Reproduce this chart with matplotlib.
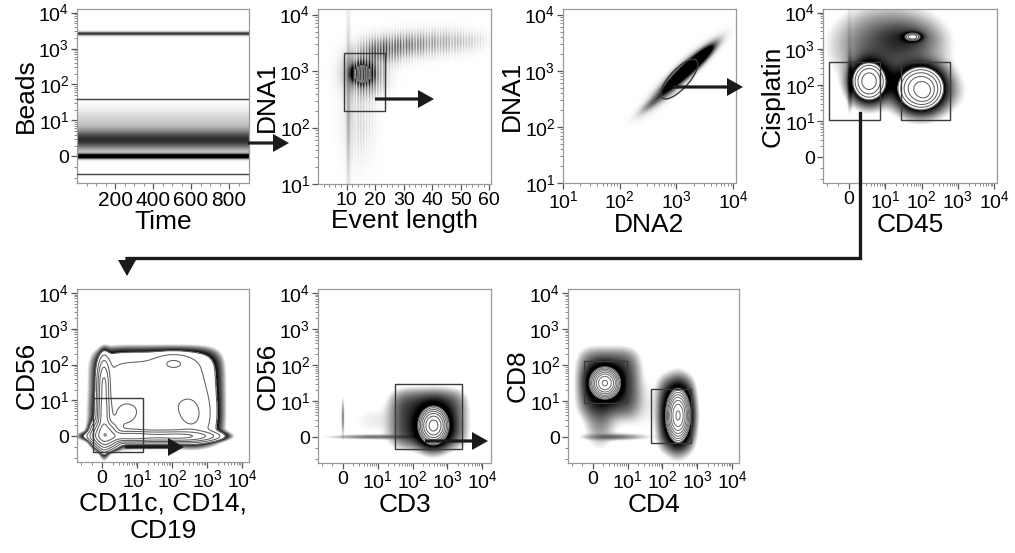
import numpy as np
import matplotlib
matplotlib.use("Agg")
import matplotlib.pyplot as plt
from matplotlib.patches import Rectangle, Ellipse, FancyArrow
from matplotlib.lines import Line2D

plt.rcParams['font.family'] = ['Liberation Sans', 'DejaVu Sans']
plt.rcParams['mathtext.fontset'] = 'custom'
plt.rcParams['mathtext.rm'] = 'Liberation Sans'
plt.rcParams['mathtext.it'] = 'Liberation Sans'

# ---------------- data (biexponential units: 0 -> 0, 1 -> 10^1 ...) -------------
DEC_TICKS = [0, 1, 2, 3, 4]
DEC_LABELS = ['0', r'$\mathregular{10^1}$', r'$\mathregular{10^2}$', r'$\mathregular{10^3}$', r'$\mathregular{10^4}$']
LOG_TICKS = [1, 2, 3, 4]
LOG_LABELS = DEC_LABELS[1:]
TIME_TICKS = [200, 400, 600, 800]
LEN_TICKS = [10, 20, 30, 40, 50, 60]

# Panel 1: Beads vs Time (horizontal bands, uniform in time)
P1_BAND_Y = [3.42, 0.0, 0.45, 0.95]
P1_BAND_SY = [0.035, 0.045, 0.2, 0.25]
P1_BAND_W = [0.85, 1.6, 0.8, 0.18]
P1_GATES_Y = [1.6, -0.49]

# Panel 2: DNA1 (log10) vs Event length
P2_CX = [15.5, 16.5, 10.6, 22.0, 31.0, 42.0, 52.0, 14.5]
P2_CY = [2.95, 2.95, 2.4, 3.35, 3.45, 3.5, 3.52, 2.2]
P2_SX = [1.6, 3.5, 0.4, 4.0, 5.0, 5.0, 4.0, 3.0]
P2_SY = [0.08, 0.2, 0.8, 0.13, 0.12, 0.12, 0.1, 0.45]
P2_W = [12.0, 1.0, 0.18, 0.6, 0.4, 0.22, 0.1, 0.08]
P2_GATE = [9.2, 2.3, 23.6, 3.32]  # x0, y0, x1, y1

# Panel 3: DNA1 vs DNA2 (log10)
P3_CX = [3.3, 3.05, 2.6]
P3_CY = [3.12, 2.9, 2.45]
P3_SL = [0.22, 0.3, 0.17]
P3_SW = [0.045, 0.06, 0.04]
P3_ANG = [43, 45, 40]
P3_W = [8.0, 2.0, 0.3]
P3_GATE = [3.05, 2.85, 0.9, 0.34, 48]  # cx, cy, length, width, angle

# Panel 4: Cisplatin vs CD45  (C = contoured populations, S = outlier dots)
P4C_CX = [0.55, 1.98, 2.08, 1.75]
P4C_CY = [2.1, 1.9, 1.8, 3.33]
P4C_SX = [0.27, 0.35, 0.14, 0.14]
P4C_SY = [0.31, 0.33, 0.15, 0.07]
P4C_W = [4.0, 5.0, 1.5, 3.0]
P4S_CX = [1.1, 0.03, 0.0, 2.9, 1.6, 1.9, 1.15]
P4S_CY = [3.1, 2.1, 2.5, 1.8, 3.3, 1.9, 2.1]
P4S_SX = [0.85, 0.04, 0.03, 0.35, 0.45, 0.6, 0.2]
P4S_SY = [0.6, 0.35, 1.0, 0.35, 0.25, 0.5, 0.3]
P4S_W = [0.5, 0.7, 0.08, 0.06, 0.3, 0.1, 0.4]
P4_GATES = [[-0.56, 1.03, 0.86, 2.64], [1.44, 1.03, 2.78, 2.64]]

# Panel 5: CD56 vs CD11c, CD14, CD19
P5C_CX = [0.05, 0.05, 0.8, 2.2, 0.1, 1.55, 2.05, 2.6, 0.6, 1.8]
P5C_CY = [0.6, 1.5, 0.0, 0.0, 0.05, 1.1, 2.05, 0.6, 0.6, 1.0]
P5C_SX = [0.09, 0.09, 0.55, 0.55, 0.18, 1.55, 0.3, 0.3, 0.4, 0.6]
P5C_SY = [0.45, 0.35, 0.08, 0.08, 0.18, 1.15, 0.15, 0.4, 0.4, 0.5]
P5C_W = [3.0, 2.0, 3.0, 2.5, 6.0, 0.4, 0.35, 0.3, 0.3, 0.2]
P5C_P = [1, 1, 1, 1, 1, 3, 1, 1, 1, 1]
P5_GATE = [-0.26, -0.44, 1.17, 1.08]

# Panel 6: CD56 vs CD3
P6C_CX = [2.6]
P6C_CY = [0.32]
P6C_SX = [0.25]
P6C_SY = [0.3]
P6C_W = [5.0]
P6S_CX = [2.45, 0.9, 1.0, 0.0]
P6S_CY = [0.5, 0.45, 0.0, 0.55]
P6S_SX = [0.8, 0.6, 0.8, 0.02]
P6S_SY = [0.6, 0.35, 0.035, 0.3]
P6S_W = [0.65, 0.06, 0.3, 0.3]
P6S_P = [2, 1, 1, 1]
P6_GATE = [1.49, -0.33, 3.43, 1.47]

# Panel 7: CD8 vs CD4
P7C_CX = [0.35, 2.45]
P7C_CY = [1.5, 0.6]
P7C_SX = [0.25, 0.2]
P7C_SY = [0.25, 0.42]
P7C_W = [5.0, 5.0]
P7S_CX = [0.45, 0.2, 2.4, 1.3, 0.6]
P7S_CY = [1.5, 0.6, 0.65, 0.9, 0.0]
P7S_SX = [0.65, 0.25, 0.4, 0.6, 0.5]
P7S_SY = [0.7, 0.5, 0.75, 0.6, 0.05]
P7S_W = [0.6, 0.25, 0.5, 0.07, 0.3]
P7S_P = [2, 1, 2, 1, 1]
P7_GATES = [[-0.26, 0.94, 0.97, 2.11], [1.66, -0.17, 2.83, 1.33]]

# ---------------- figure ----------------
W, H = 1015, 553
fig = plt.figure(figsize=(W / 100, H / 100), dpi=100)


def px_axes(l, t, r, b):
    return fig.add_axes([l / W, 1 - b / H, (r - l) / W, (b - t) / H])


def style(ax, xticks, xlabels, yticks, ylabels, xlabel, ylabel, xfs=14, yfs=14, decx=True, decy=True):
    for s in ax.spines.values():
        s.set_color('#9a9a9a')
        s.set_linewidth(0.9)
    ax.set_xticks(xticks)
    ax.set_xticklabels(xlabels, fontsize=xfs)
    ax.set_yticks(yticks)
    ax.set_yticklabels(ylabels, fontsize=yfs)
    ax.tick_params(direction='out', length=4, width=0.9, color='#555555', pad=1.5)
    ax.tick_params(which='minor', direction='out', length=2, width=0.6, color='#777777')
    mins = []
    for d in (range(0, 4) if decy else range(1, 4)):
        mins += [d + np.log10(k) for k in range(2, 10)]
    if decy:
        mins += [-0.3, -0.6]
    ax.set_yticks(mins, minor=True)
    if decx is not None:
        mx = []
        for d in (range(0, 4) if decx else range(1, 4)):
            mx += [d + np.log10(k) for k in range(2, 10)]
        if decx:
            mx += [-0.3, -0.6]
        ax.set_xticks(mx, minor=True)
    ax.set_xlabel(xlabel, fontsize=19, labelpad=0)
    ax.set_ylabel(ylabel, fontsize=19, labelpad=0)


def gauss_sum(X, Y, cx, cy, sx, sy, w, p=None):
    D = np.zeros_like(X)
    if p is None:
        p = [1] * len(cx)
    for a, b, c, d, e, k in zip(cx, cy, sx, sy, w, p):
        q = np.abs((X - a) / c) ** (2 * k) + np.abs((Y - b) / d) ** (2 * k)
        D += e * np.exp(-0.5 * q)
    return D


def show_dots(ax, D, ext, t0, gamma=1.0):
    dark = np.clip(D / t0, 0, 1) ** gamma
    ax.imshow(dark, extent=ext, origin='lower', cmap='gray_r', vmin=0, vmax=1,
              aspect='auto', interpolation='bilinear', zorder=1)
    ax.set_xlim(ext[0], ext[1])
    ax.set_ylim(ext[2], ext[3])


def show_contour(ax, C, S, ext, t0, r=25, gamma=1.3, nlev=8, ratio=1.5, lc='#606060'):
    T = C + S
    ramp = np.clip(np.log(np.maximum(T, 1e-12) / (t0 / r)) / np.log(r), 0, 1) ** gamma
    dark = np.where(C >= t0, 0.0, ramp)
    ax.imshow(dark, extent=ext, origin='lower', cmap='gray_r', vmin=0, vmax=1,
              aspect='auto', interpolation='bilinear', zorder=1)
    xs = np.linspace(ext[0], ext[1], C.shape[1])
    ys = np.linspace(ext[2], ext[3], C.shape[0])
    levels = [t0 * ratio ** i for i in range(nlev)]
    ax.contour(xs, ys, C, levels=levels, colors=lc, linewidths=0.75, zorder=2)
    ax.set_xlim(ext[0], ext[1])
    ax.set_ylim(ext[2], ext[3])


def grid(ext, n=400):
    xs = np.linspace(ext[0], ext[1], n)
    ys = np.linspace(ext[2], ext[3], n)
    return np.meshgrid(xs, ys)


GATE_KW = dict(fill=False, edgecolor='#3a3a3a', linewidth=1.0, zorder=3)

# ---- Panel 1 ----
ax1 = px_axes(77, 9, 249, 183)
ext1 = [0, 905, -0.74, 4.1]
X, Y = grid(ext1)
D1 = np.zeros_like(X)
for yc, sy, w in zip(P1_BAND_Y, P1_BAND_SY, P1_BAND_W):
    D1 += w * np.exp(-0.5 * ((Y - yc) / sy) ** 2)
show_dots(ax1, D1, ext1, 1.0)
for gy in P1_GATES_Y:
    ax1.axhline(gy, color='#444444', lw=1.0, zorder=3)
style(ax1, TIME_TICKS, [str(t) for t in TIME_TICKS], DEC_TICKS, DEC_LABELS, 'Time', 'Beads',
      xfs=15, decx=None)
ax1.set_xticks(np.arange(50, 900, 50), minor=True)

# ---- Panel 2 ----
ax2 = px_axes(318, 9, 491, 184)
ext2 = [0, 60.6, 1.0, 4.1]
X, Y = grid(ext2, 500)
D2 = gauss_sum(X, Y, P2_CX, P2_CY, P2_SX, P2_SY, P2_W)
comb = (np.abs(X - np.round(X)) < 0.22).astype(float) * 0.85 + 0.15
D2 = D2 * np.where(X > 12.5, comb, 1.0)
show_dots(ax2, D2, ext2, 0.9, gamma=0.7)
ax2.contour(np.linspace(ext2[0], ext2[1], 500), np.linspace(ext2[2], ext2[3], 500), D2,
            levels=[3.0], colors='#888888', linewidths=0.8, zorder=2)
g = P2_GATE
ax2.add_patch(Rectangle((g[0], g[1]), g[2] - g[0], g[3] - g[1], **GATE_KW))
style(ax2, LEN_TICKS, [str(t) for t in LEN_TICKS], LOG_TICKS, LOG_LABELS, 'Event length', 'DNA1',
      decx=None, decy=False)
ax2.set_xticks(np.arange(2, 61, 2), minor=True)

# ---- Panel 3 ----
ax3 = px_axes(563, 9, 736, 183)
ext3 = [1.0, 4.05, 1.0, 4.1]
X, Y = grid(ext3)
D3 = np.zeros_like(X)
for cx, cy, sl, sw, an, w in zip(P3_CX, P3_CY, P3_SL, P3_SW, P3_ANG, P3_W):
    t = np.deg2rad(an)
    u = (X - cx) * np.cos(t) + (Y - cy) * np.sin(t)
    v = -(X - cx) * np.sin(t) + (Y - cy) * np.cos(t)
    D3 += w * np.exp(-0.5 * ((u / sl) ** 2 + (v / sw) ** 2))
show_dots(ax3, D3, ext3, 1.0, gamma=0.6)
ax3.contour(np.linspace(ext3[0], ext3[1], 400), np.linspace(ext3[2], ext3[3], 400), D3,
            levels=[0.5], colors='#666666', linewidths=0.8, zorder=2)
g = P3_GATE
ax3.add_patch(Ellipse((g[0], g[1]), g[2], g[3], angle=g[4], **GATE_KW))
style(ax3, LOG_TICKS, LOG_LABELS, LOG_TICKS, LOG_LABELS, 'DNA2', 'DNA1', decx=False, decy=False)

# ---- Panel 4 ----
ax4 = px_axes(823, 9, 997, 183)
ext4 = [-0.72, 4.08, -0.72, 4.1]
X, Y = grid(ext4)
C4 = gauss_sum(X, Y, P4C_CX, P4C_CY, P4C_SX, P4C_SY, P4C_W)
S4 = gauss_sum(X, Y, P4S_CX, P4S_CY, P4S_SX, P4S_SY, P4S_W)
show_contour(ax4, C4, S4, ext4, 1.0, r=20, nlev=6, ratio=1.45)
for g in P4_GATES:
    ax4.add_patch(Rectangle((g[0], g[1]), g[2] - g[0], g[3] - g[1], **GATE_KW))
style(ax4, DEC_TICKS, DEC_LABELS, DEC_TICKS, DEC_LABELS, 'CD45', 'Cisplatin')

# ---- Panel 5 ----
ax5 = px_axes(77, 289, 249, 462)
ext5 = [-0.72, 4.2, -0.72, 4.11]
X, Y = grid(ext5)
C5 = gauss_sum(X, Y, P5C_CX, P5C_CY, P5C_SX, P5C_SY, P5C_W, P5C_P)
show_contour(ax5, C5, np.zeros_like(C5), ext5, 0.18, r=4, gamma=1.0, nlev=9, ratio=1.9)
g = P5_GATE
ax5.add_patch(Rectangle((g[0], g[1]), g[2] - g[0], g[3] - g[1], **GATE_KW))
style(ax5, DEC_TICKS, DEC_LABELS, DEC_TICKS, DEC_LABELS, 'CD11c, CD14,\nCD19', 'CD56')

# ---- Panel 6 ----
ax6 = px_axes(318, 289, 491, 463)
ext6 = [-0.71, 4.25, -0.72, 4.11]
X, Y = grid(ext6)
C6 = gauss_sum(X, Y, P6C_CX, P6C_CY, P6C_SX, P6C_SY, P6C_W)
S6 = gauss_sum(X, Y, P6S_CX, P6S_CY, P6S_SX, P6S_SY, P6S_W, P6S_P)
show_contour(ax6, C6, S6, ext6, 1.0, r=25, nlev=8, ratio=1.28)
g = P6_GATE
ax6.add_patch(Rectangle((g[0], g[1]), g[2] - g[0], g[3] - g[1], **GATE_KW))
style(ax6, DEC_TICKS, DEC_LABELS, DEC_TICKS, DEC_LABELS, 'CD3', 'CD56')

# ---- Panel 7 ----
ax7 = px_axes(568, 289, 739, 463)
ext7 = [-0.71, 4.2, -0.72, 4.11]
X, Y = grid(ext7)
C7 = gauss_sum(X, Y, P7C_CX, P7C_CY, P7C_SX, P7C_SY, P7C_W)
S7 = gauss_sum(X, Y, P7S_CX, P7S_CY, P7S_SX, P7S_SY, P7S_W, P7S_P)
show_contour(ax7, C7, S7, ext7, 1.0, r=25, nlev=8, ratio=1.25, lc='#707070')
for g in P7_GATES:
    ax7.add_patch(Rectangle((g[0], g[1]), g[2] - g[0], g[3] - g[1], **GATE_KW))
style(ax7, DEC_TICKS, DEC_LABELS, DEC_TICKS, DEC_LABELS, 'CD4', 'CD8')

# ---------------- arrows (overlay in pixel coordinates) ----------------
ov = fig.add_axes([0, 0, 1, 1], zorder=10)
ov.set_xlim(0, W)
ov.set_ylim(H, 0)
ov.axis('off')
ov.patch.set_alpha(0)

AKW = dict(width=3.2, head_width=18, head_length=16, length_includes_head=True,
           color='#1a1a1a', linewidth=0)


def arrow(x0, y0, x1, y1):
    ov.add_patch(FancyArrow(x0, y0, x1 - x0, y1 - y0, **AKW))


arrow(248, 143, 289, 143)
arrow(375, 99, 434, 99)
arrow(673, 87, 743, 87)
arrow(125, 447, 184, 447)
arrow(425, 441, 488, 441)
ov.add_line(Line2D([860, 860, 127], [113, 258, 258], color='#1a1a1a', lw=2.4,
                   solid_joinstyle='miter'))
arrow(127, 257, 127, 276)

fig.savefig('out.png', dpi=100)
